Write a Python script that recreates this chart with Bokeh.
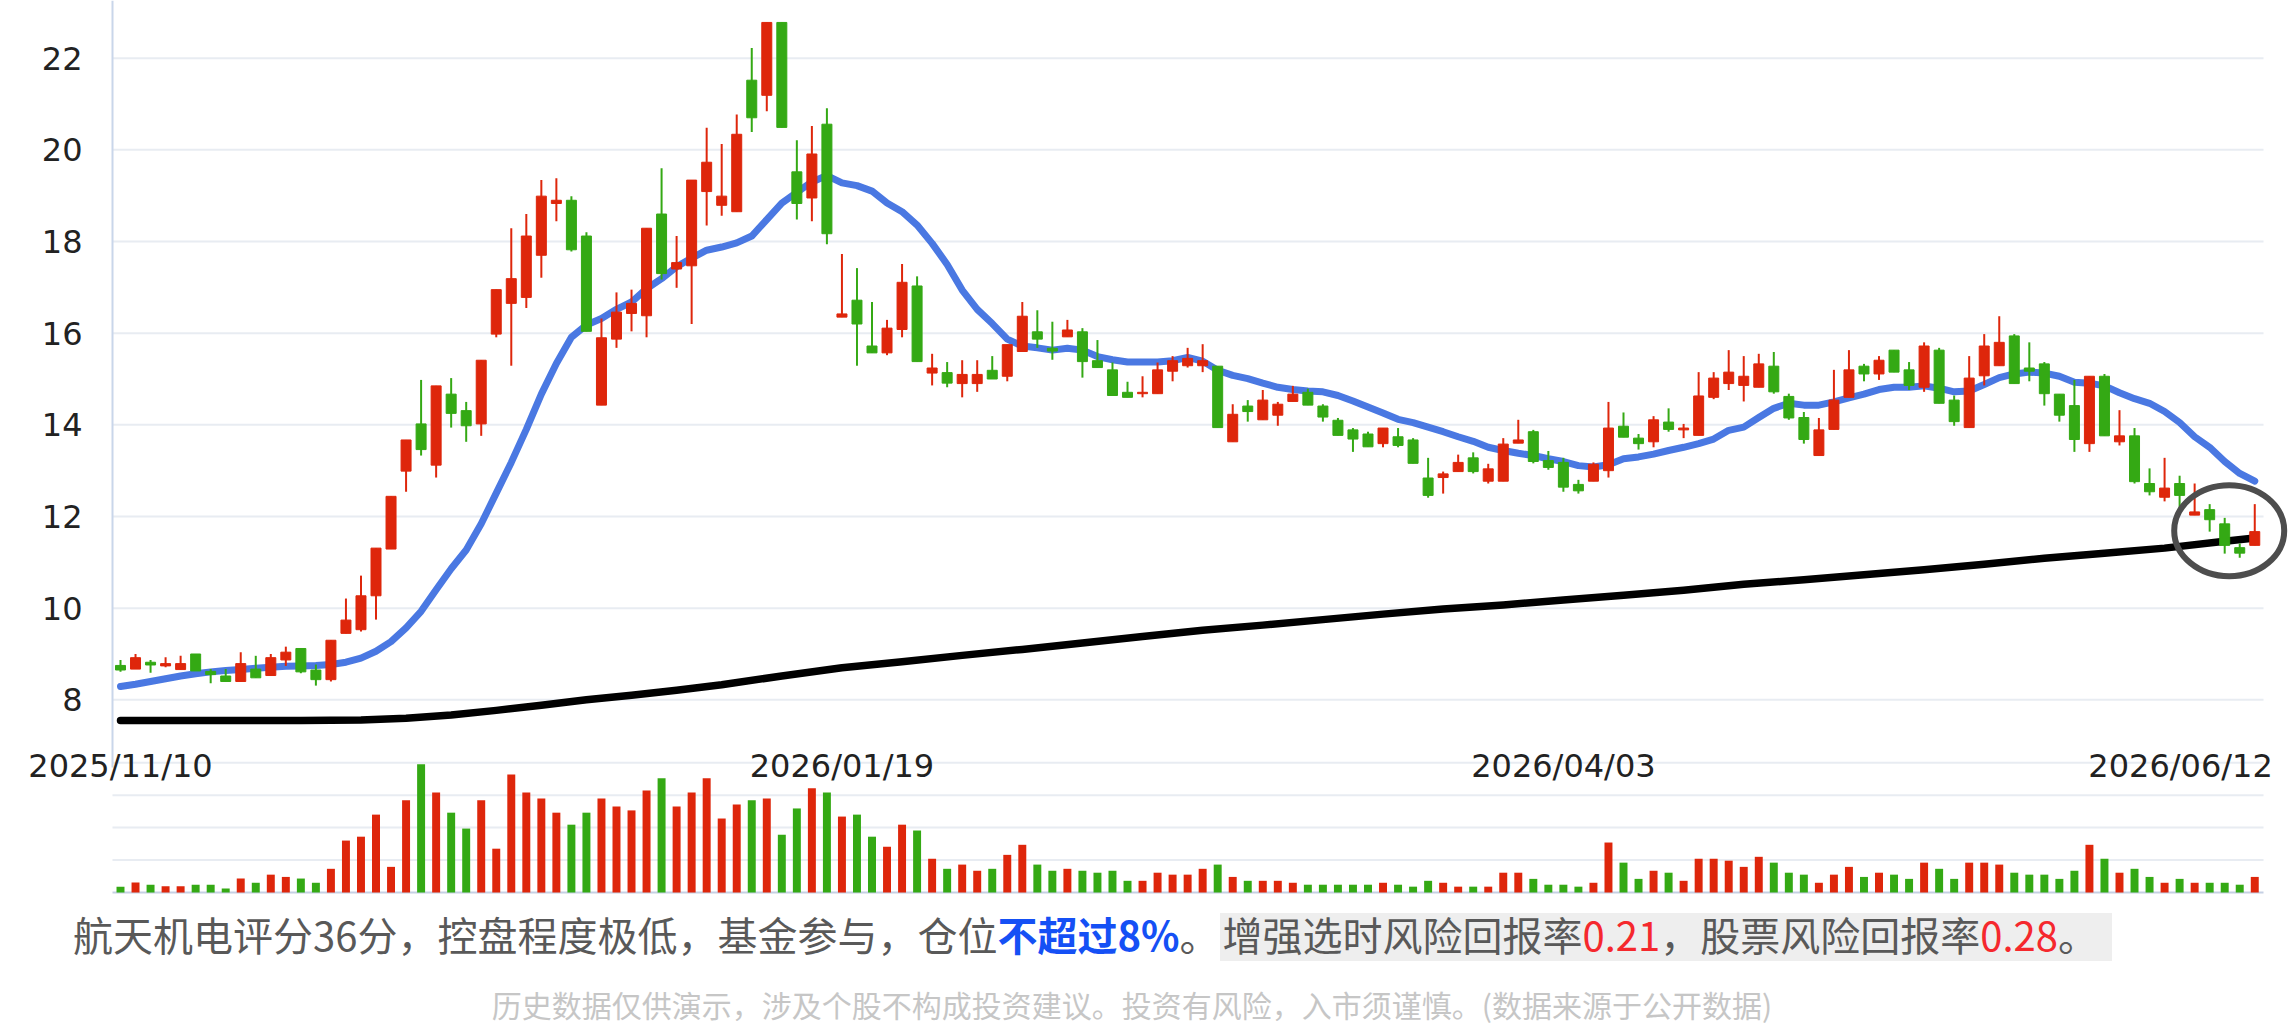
import numpy as np
from bokeh.plotting import figure
from bokeh.models import Range1d, Div
from bokeh.layouts import column
from bokeh.core.properties import value
from bokeh.embed import file_html
from bokeh.resources import INLINE

# ---------------- data ----------------
open_ = [8.75, 8.67, 8.82, 8.74, 8.66, 9.00, 8.62, 8.52, 8.40, 8.67,
         8.53, 8.87, 9.12, 8.65, 8.44, 9.45, 9.53, 10.27, 11.29, 12.99,
         14.02, 13.12, 14.67, 14.31, 14.02, 15.98, 16.65, 16.78, 17.70, 18.83,
         18.90, 18.12, 14.43, 15.87, 16.43, 16.38, 18.60, 17.40, 17.47, 19.09,
         18.79, 18.65, 21.52, 21.19, 22.78, 19.52, 18.95, 20.56, 16.35, 16.72,
         15.72, 15.57, 16.08, 17.03, 15.13, 15.14, 14.90, 14.90, 15.19, 15.06,
         15.60, 16.03, 15.67, 15.92, 16.03, 15.40, 15.20, 14.71, 14.68, 14.68,
         15.17, 15.29, 15.29, 15.28, 13.63, 14.41, 14.11, 14.21, 14.51, 14.71,
         14.41, 14.10, 13.89, 13.80, 13.59, 13.74, 13.67, 12.84, 12.85, 12.98,
         13.28, 12.77, 12.77, 13.60, 13.85, 13.22, 13.18, 12.70, 12.77, 13.00,
         13.97, 13.71, 13.63, 14.06, 13.89, 13.77, 14.60, 14.90, 14.86, 14.82,
         15.28, 14.62, 14.16, 13.33, 13.90, 14.60, 15.28, 15.11, 15.63, 15.20,
         14.82, 15.63, 14.54, 13.94, 15.07, 15.29, 15.94, 15.24, 15.33, 14.67,
         14.42, 13.59, 15.06, 13.63, 13.76, 12.72, 12.42, 12.72, 12.03, 12.15,
         11.84, 11.32, 11.37]
high_ = [8.87, 9.00, 8.87, 8.93, 8.96, 9.00, 8.67, 8.67, 9.04, 8.96,
         9.00, 9.16, 9.12, 8.77, 9.30, 10.21, 10.71, 11.31, 12.44, 13.67,
         14.98, 14.85, 15.02, 14.50, 15.41, 16.95, 18.29, 18.60, 19.34, 19.38,
         18.99, 18.20, 16.32, 16.89, 16.95, 18.29, 19.60, 18.12, 19.34, 20.48,
         20.13, 20.77, 22.22, 22.78, 22.78, 20.21, 20.52, 20.91, 17.73, 17.42,
         16.68, 16.29, 17.51, 17.24, 15.55, 15.37, 15.41, 15.41, 15.50, 15.75,
         16.68, 16.50, 16.25, 16.29, 16.11, 15.85, 15.36, 14.94, 15.06, 15.36,
         15.50, 15.68, 15.76, 15.28, 14.45, 14.54, 14.76, 14.50, 14.85, 14.79,
         14.45, 14.15, 13.93, 13.85, 13.93, 13.93, 13.71, 13.28, 12.98, 13.35,
         13.40, 13.15, 13.71, 14.11, 13.89, 13.43, 13.28, 12.80, 13.18, 14.50,
         14.27, 13.80, 14.19, 14.36, 14.02, 15.15, 15.15, 15.63, 15.50, 15.55,
         15.59, 14.68, 14.28, 14.15, 15.20, 15.63, 15.33, 15.50, 15.63, 15.37,
         15.80, 15.68, 14.64, 15.50, 15.98, 16.37, 15.98, 15.80, 15.37, 14.67,
         14.98, 15.06, 15.11, 14.32, 13.93, 13.05, 13.28, 12.89, 12.72, 12.27,
         11.97, 11.41, 12.27]
low_ = [8.61, 8.67, 8.59, 8.71, 8.66, 8.63, 8.36, 8.40, 8.40, 8.48,
        8.53, 8.74, 8.58, 8.31, 8.40, 9.45, 9.49, 9.75, 11.29, 12.54,
        13.33, 12.85, 13.94, 13.63, 13.76, 15.91, 15.29, 16.55, 17.21, 18.44,
        17.78, 16.04, 14.43, 15.68, 16.04, 15.91, 17.17, 16.99, 16.20, 18.35,
        18.56, 18.65, 20.39, 20.84, 20.49, 18.48, 18.44, 17.94, 16.35, 15.29,
        15.57, 15.52, 15.91, 15.38, 14.86, 14.82, 14.60, 14.72, 15.00, 14.95,
        15.60, 15.68, 15.42, 15.92, 15.03, 15.25, 14.64, 14.60, 14.60, 14.68,
        14.95, 15.25, 15.15, 13.94, 13.63, 14.07, 14.11, 13.98, 14.51, 14.43,
        14.07, 13.77, 13.41, 13.52, 13.51, 13.51, 13.16, 12.41, 12.50, 12.98,
        12.94, 12.72, 12.77, 13.60, 13.16, 13.02, 12.54, 12.50, 12.77, 12.85,
        13.73, 13.46, 13.51, 13.85, 13.71, 13.77, 14.56, 14.76, 14.51, 14.82,
        14.68, 14.11, 13.59, 13.33, 13.90, 14.60, 14.95, 14.98, 15.15, 14.76,
        14.72, 14.47, 13.98, 13.94, 14.86, 15.29, 14.90, 14.95, 14.42, 14.07,
        13.41, 13.41, 13.76, 13.55, 12.72, 12.46, 12.33, 12.15, 12.03, 11.67,
        11.19, 11.10, 11.37]
close_ = [8.65, 8.92, 8.76, 8.79, 8.79, 8.63, 8.55, 8.40, 8.79, 8.48,
          8.92, 9.04, 8.61, 8.44, 9.30, 9.74, 10.27, 11.31, 12.44, 13.67,
          13.46, 14.85, 14.25, 13.98, 15.41, 16.95, 17.19, 18.12, 18.99, 18.90,
          17.82, 16.04, 15.90, 16.46, 16.65, 18.29, 17.30, 17.54, 19.34, 19.73,
          18.99, 20.34, 20.70, 22.78, 20.49, 18.83, 19.91, 18.17, 16.42, 16.20,
          15.57, 16.11, 17.11, 15.38, 15.24, 14.91, 15.10, 15.10, 15.00, 15.75,
          16.37, 15.87, 15.61, 16.07, 15.38, 15.25, 14.64, 14.60, 14.71, 15.20,
          15.40, 15.45, 15.40, 13.94, 14.23, 14.29, 14.54, 14.45, 14.67, 14.43,
          14.17, 13.77, 13.69, 13.52, 13.93, 13.55, 13.16, 12.46, 12.93, 13.18,
          12.98, 13.04, 13.58, 13.67, 13.20, 13.07, 12.64, 12.56, 13.14, 13.93,
          13.73, 13.59, 14.11, 13.90, 13.93, 14.63, 15.02, 15.15, 15.06, 15.33,
          14.72, 14.15, 13.68, 13.89, 14.54, 15.20, 15.11, 15.41, 15.15, 14.86,
          15.72, 14.47, 14.07, 15.02, 15.72, 15.80, 14.90, 15.17, 14.68, 14.21,
          13.68, 15.06, 13.76, 13.76, 12.76, 12.54, 12.62, 12.46, 12.10, 11.93,
          11.37, 11.20, 11.67]
volume = [0.18, 0.31, 0.24, 0.19, 0.19, 0.24, 0.24, 0.12, 0.43, 0.30,
          0.55, 0.48, 0.43, 0.30, 0.73, 1.60, 1.72, 2.40, 0.79, 2.84,
          3.95, 3.08, 2.46, 1.97, 2.84, 1.35, 3.64, 3.08, 2.90, 2.46,
          2.09, 2.46, 2.90, 2.65, 2.53, 3.14, 3.52, 2.65, 3.08, 3.52,
          2.28, 2.71, 2.84, 2.90, 1.78, 2.59, 3.21, 3.08, 2.34, 2.40,
          1.72, 1.41, 2.09, 1.91, 1.04, 0.73, 0.86, 0.67, 0.73, 1.16,
          1.47, 0.86, 0.67, 0.73, 0.67, 0.61, 0.67, 0.36, 0.36, 0.61,
          0.55, 0.55, 0.73, 0.86, 0.48, 0.36, 0.36, 0.36, 0.30, 0.24,
          0.24, 0.24, 0.24, 0.24, 0.30, 0.24, 0.18, 0.36, 0.30, 0.18,
          0.18, 0.18, 0.61, 0.61, 0.42, 0.24, 0.24, 0.18, 0.30, 1.54,
          0.92, 0.42, 0.67, 0.61, 0.36, 1.04, 1.04, 0.98, 0.79, 1.10,
          0.92, 0.61, 0.55, 0.30, 0.55, 0.79, 0.48, 0.61, 0.55, 0.42,
          0.92, 0.73, 0.42, 0.92, 0.92, 0.86, 0.61, 0.55, 0.55, 0.42,
          0.67, 1.47, 1.04, 0.61, 0.73, 0.48, 0.30, 0.42, 0.30, 0.30,
          0.30, 0.24, 0.48]
ma_short = [8.29, 8.34, 8.40, 8.46, 8.52, 8.57, 8.61, 8.64, 8.66, 8.69,
            8.71, 8.73, 8.74, 8.75, 8.77, 8.82, 8.91, 9.06, 9.27, 9.57,
            9.93, 10.40, 10.86, 11.27, 11.84, 12.51, 13.18, 13.90, 14.67, 15.34,
            15.91, 16.18, 16.32, 16.52, 16.68, 16.97, 17.19, 17.45, 17.64, 17.81,
            17.88, 17.97, 18.12, 18.48, 18.84, 19.07, 19.30, 19.44, 19.28, 19.22,
            19.10, 18.84, 18.65, 18.36, 17.96, 17.50, 16.94, 16.52, 16.21, 15.87,
            15.72, 15.68, 15.63, 15.67, 15.63, 15.49, 15.42, 15.37, 15.37, 15.37,
            15.40, 15.47, 15.39, 15.19, 15.08, 15.01, 14.91, 14.82, 14.77, 14.74,
            14.72, 14.64, 14.52, 14.39, 14.26, 14.12, 14.05, 13.95, 13.85, 13.74,
            13.64, 13.51, 13.44, 13.38, 13.33, 13.26, 13.20, 13.11, 13.08, 13.13,
            13.26, 13.30, 13.36, 13.44, 13.51, 13.59, 13.69, 13.88, 13.95, 14.16,
            14.36, 14.47, 14.43, 14.43, 14.50, 14.59, 14.67, 14.77, 14.82, 14.82,
            14.85, 14.80, 14.72, 14.74, 14.88, 15.03, 15.11, 15.15, 15.13, 15.06,
            14.93, 14.91, 14.85, 14.70, 14.57, 14.47, 14.29, 14.05, 13.74, 13.51,
            13.20, 12.94, 12.77]
ma_long_idx = [0, 6, 12, 16, 19, 22, 25, 28, 31, 34, 37, 40, 44, 48, 52, 56, 60,
               64, 68, 72, 76, 80, 84, 88, 92, 96, 100, 104, 108, 112, 116, 120,
               124, 128, 132, 136, 140, 142]
ma_long = [7.55, 7.55, 7.55, 7.56, 7.60, 7.67, 7.77, 7.88, 8.00, 8.10, 8.21, 8.33,
           8.52, 8.70, 8.83, 8.97, 9.10, 9.24, 9.38, 9.52, 9.63, 9.75, 9.87, 9.98,
           10.07, 10.18, 10.28, 10.39, 10.52, 10.62, 10.73, 10.84, 10.96, 11.09,
           11.20, 11.31, 11.46, 11.53]
price_ticks = [8, 10, 12, 14, 16, 18, 20, 22]
price_tick_labels = ["8", "10", "12", "14", "16", "18", "20", "22"]
volume_ticks = [1, 2, 3, 4]
xtick_idx = [0, 48, 96, 142]
xtick_labels = ["2025/11/10", "2026/01/19", "2026/04/03", "2026/06/12"]
highlight_x, highlight_y = 140.3, 11.69

# ---------------- styles / geometry ----------------
RED = "#de260b"
GREEN = "#34a914"
BLUE = "#4a78e2"
GRID = "#e8ecf2"
FONT = value("DejaVu Sans")
PX_STEP = 15.03          # pixels per candle
X0_PX = 120              # pixel of first candle
FIG_W, FIG_H = 2288, 902
PX_PER_PRICE = 45.83
PX_PER_VOL = 32.45
VOL_BASE_PX = 892        # baseline of the volume panel (from top)

def xpx(px):
    return (px - X0_PX) / PX_STEP

x_lo, x_hi = xpx(0), xpx(FIG_W)
x_left, x_grid_hi = xpx(112), xpx(2263)
price_hi = 22 + 57.7 / PX_PER_PRICE
price_lo = price_hi - FIG_H / PX_PER_PRICE
vol_hi = VOL_BASE_PX / PX_PER_VOL
vol_lo = vol_hi - FIG_H / PX_PER_VOL
axis_bottom = price_hi - 767 / PX_PER_PRICE
label_y = price_hi - 765 / PX_PER_PRICE

o = np.array(open_); h = np.array(high_); l = np.array(low_); c = np.array(close_)
idx = np.arange(len(c))
colors = np.where(c >= o, RED, GREEN)

p = figure(width=FIG_W, height=FIG_H,
           x_range=Range1d(x_lo, x_hi), y_range=Range1d(price_lo, price_hi),
           x_axis_location=None, y_axis_location=None,
           output_backend="svg", toolbar_location=None,
           min_border_left=0, min_border_right=0, min_border_top=0,
           min_border_bottom=0, outline_line_color=None,
           background_fill_color="white", border_fill_color="white")
p.extra_y_ranges = {"vol": Range1d(vol_lo, vol_hi)}
p.xgrid.visible = False
p.ygrid.visible = False

# grid lines
p.segment(x0=x_left, x1=x_grid_hi, y0=price_ticks, y1=price_ticks,
          line_color=GRID, line_width=2)
p.segment(x0=x_left, x1=x_grid_hi, y0=volume_ticks, y1=volume_ticks,
          line_color=GRID, line_width=2, y_range_name="vol")

# axis lines
p.segment(x0=[x_left], x1=[x_left], y0=[axis_bottom], y1=[price_hi],
          line_color="#c9d6ea", line_width=2)
p.segment(x0=[x_left], x1=[x_grid_hi], y0=[0], y1=[0],
          line_color="#c5d0e3", line_width=2, y_range_name="vol")

# y tick labels
p.text(x=[xpx(82)] * len(price_ticks), y=price_ticks, text=price_tick_labels,
       text_align="right", text_baseline="middle", text_font=FONT,
       text_font_size="32px", text_color="#222222")

# moving averages
p.line(ma_long_idx, ma_long, line_color="black", line_width=7.5,
       line_join="round", line_cap="round")
p.line(idx, ma_short, line_color=BLUE, line_width=7,
       line_join="round", line_cap="round")

# candles
p.segment(x0=idx, x1=idx, y0=l, y1=h, line_color=colors, line_width=2)
p.vbar(x=idx, width=0.665, top=np.maximum(o, c), bottom=np.minimum(o, c),
       fill_color=colors, line_color=colors, line_width=1)

# volume
p.vbar(x=idx, width=0.53, top=volume, bottom=0, fill_color=colors,
       line_color=None, y_range_name="vol")

# x tick labels
p.text(x=xtick_idx[:3], y=[label_y] * 3, text=xtick_labels[:3],
       text_align="center", text_baseline="alphabetic",
       text_font=FONT, text_font_size="32px", text_color="#222222")
p.text(x=xtick_idx[3:], y=[label_y], text=xtick_labels[3:], x_offset=18,
       text_align="right", text_baseline="alphabetic",
       text_font=FONT, text_font_size="32px", text_color="#222222")

# highlight circle
p.ellipse(x=[highlight_x], y=[highlight_y], width=110, height=91,
          width_units="screen", height_units="screen",
          fill_color=None, line_color="#4d4d4d", line_width=6)

div_h = 1034 - FIG_H
html = (
    '<div style="position:relative;width:2288px;height:%dpx;'
    'font-family:\'Noto Sans CJK SC\',sans-serif;">' % div_h +
    '<div style="position:absolute;left:73px;top:11px;white-space:nowrap;'
    'font-size:40px;line-height:42px;color:#595959;">'
    '航天机电评分36分，控盘程度极低，基金参与，仓位'
    '<span style="color:#1550f5;font-weight:bold;">不超过8%</span>。'
    '<span style="display:inline-block;background:#eeeeee;line-height:42px;'
    'padding:0 14px 6px 3px;">增强选时风险回报率'
    '<span style="color:#f5282d;">0.21</span>，股票风险回报率'
    '<span style="color:#f5282d;">0.28</span>。</span></div>'
    '<div style="position:absolute;left:0px;top:82px;width:2264px;text-align:center;'
    'white-space:nowrap;font-size:30px;line-height:40px;color:#c6c6c6;">'
    '历史数据仅供演示，涉及个股不构成投资建议。投资有风险，入市须谨慎。(数据来源于公开数据)'
    '</div></div>'
)
div = Div(text=html, width=FIG_W, height=div_h, margin=(0, 0, 0, 0))

layout = column(p, div, spacing=0)
open("out.html", "w").write(file_html(layout, INLINE))
